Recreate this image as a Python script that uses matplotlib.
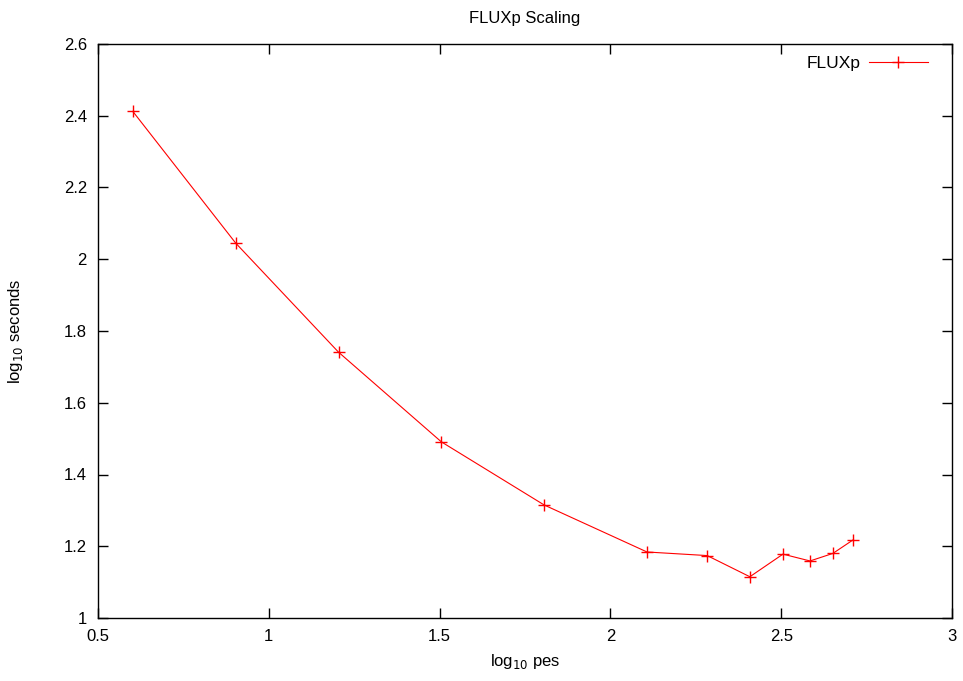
import matplotlib
matplotlib.use("Agg")
import matplotlib.pyplot as plt
import numpy as np

plt.rcParams['font.family'] = ['Liberation Sans', 'DejaVu Sans']

pes = [4, 8, 16, 32, 64, 128, 192, 256, 320, 384, 448, 512]
log_seconds = [2.412, 2.045, 1.741, 1.491, 1.315, 1.184, 1.174, 1.115, 1.178, 1.159, 1.180, 1.217]
xticks = [0.5, 1, 1.5, 2, 2.5, 3]
yticks = [1, 1.2, 1.4, 1.6, 1.8, 2, 2.2, 2.4, 2.6]

fig = plt.figure(figsize=(9.63, 6.81), dpi=100)
ax = fig.add_axes([98/963, 1 - 618/681, 854/963, 574/681])

ax.plot(np.log10(pes), log_seconds, color='red', lw=0.8, marker='+',
        markersize=9, markeredgewidth=1.0, label='FLUXp')

ax.set_xlim(0.5, 3)
ax.set_ylim(1, 2.6)
ax.set_xticks(xticks)
ax.set_xticklabels(['0.5', '1', '1.5', '2', '2.5', '3'])
ax.set_yticks(yticks)
ax.set_yticklabels(['1', '1.2', '1.4', '1.6', '1.8', '2', '2.2', '2.4', '2.6'])
ax.tick_params(direction='in', length=7, width=1, top=True, right=True, labelsize=12, pad=8)
for s in ax.spines.values():
    s.set_linewidth(1)

ax.set_title('FLUXp Scaling', fontsize=12, pad=15)
ax.set_xlabel('log$_{10}$ pes', fontsize=12, labelpad=6)
ax.set_ylabel('log$_{10}$ seconds', fontsize=12, labelpad=28)

ax.legend(loc='upper right', bbox_to_anchor=(1 - 12/854, 1), frameon=False,
          markerfirst=False, fontsize=12.5, handlelength=3.4, handletextpad=0.5,
          borderaxespad=0.3)

fig.savefig('out.png', dpi=100)
